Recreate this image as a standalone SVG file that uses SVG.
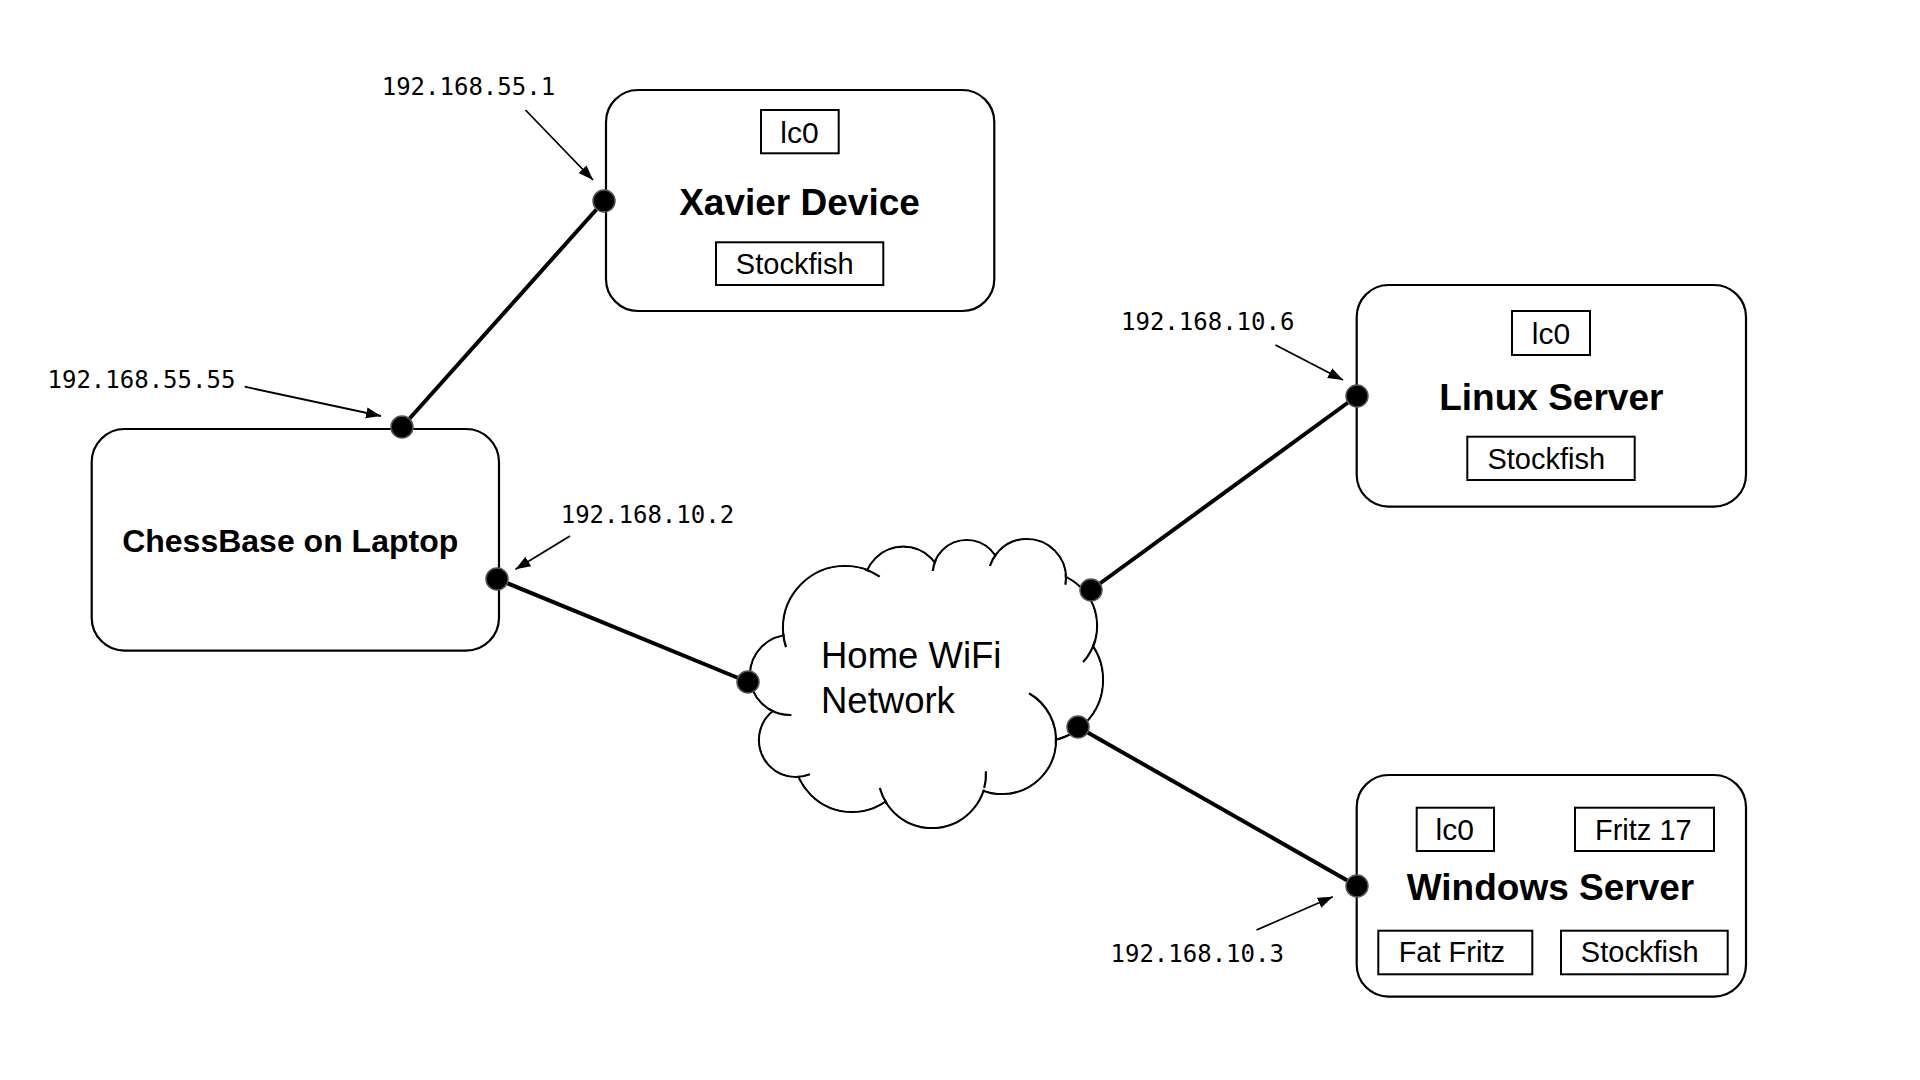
<svg xmlns="http://www.w3.org/2000/svg" width="1920" height="1080" viewBox="0 0 1920 1080">
<style>
.box{fill:#fff;stroke:#000;stroke-width:2.2}
.sub{fill:#fff;stroke:#000;stroke-width:2}
.title{font-family:"Liberation Sans",Arial,sans-serif;font-weight:bold;font-size:37px;text-anchor:middle;fill:#000}
.lbl{font-family:"Liberation Sans",Arial,sans-serif;font-size:29px;text-anchor:middle;fill:#000}
.ip{font-family:"DejaVu Sans Mono","Liberation Mono",monospace;font-size:24px;fill:#000}
.cs{fill:#fff;stroke:#000;stroke-width:2.2}
.cf{fill:#fff;stroke:none}
.tail{fill:none;stroke:#000;stroke-width:2.2}
.link{stroke:#000;stroke-width:4;fill:none}
.arr{stroke:#000;stroke-width:1.8;fill:none;marker-end:url(#ah)}
.port{fill:#000;stroke:#555;stroke-width:1.5}
</style>
<defs>
<marker id="ah" markerUnits="userSpaceOnUse" markerWidth="16" markerHeight="12" refX="15" refY="5.5" orient="auto">
<path d="M0,0 L15,5.5 L0,11 z" fill="#000"/>
</marker>
</defs>
<rect width="1920" height="1080" fill="#fff"/>

<g id="xavier">
<rect class="box" x="606" y="90" width="388.3" height="221" rx="32" ry="32"/>
<rect class="sub" x="761" y="110" width="77.7" height="43.3"/>
<text class="lbl" x="799.5" y="142.5" style="font-size:30px">lc0</text>
<text class="title" x="799.5" y="215">Xavier Device</text>
<rect class="sub" x="716" y="242.3" width="167.3" height="42.7"/>
<text class="lbl" x="794.7" y="274">Stockfish</text>
</g>

<g id="laptop">
<rect class="box" x="91.7" y="429" width="407.3" height="221.7" rx="33" ry="33"/>
<text class="title" x="290.2" y="551.7" style="font-size:32px">ChessBase on Laptop</text>
</g>

<g id="linux">
<rect class="box" x="1356.7" y="285" width="389.3" height="221.7" rx="32" ry="32"/>
<rect class="sub" x="1512" y="311" width="78" height="44"/>
<text class="lbl" x="1551" y="343.5" style="font-size:30px">lc0</text>
<text class="title" x="1551.3" y="410">Linux Server</text>
<rect class="sub" x="1467.3" y="436.7" width="167.4" height="43.3"/>
<text class="lbl" x="1546.3" y="469">Stockfish</text>
</g>

<g id="windows">
<rect class="box" x="1356.7" y="775" width="389.3" height="221.7" rx="32" ry="32"/>
<rect class="sub" x="1416.7" y="807.7" width="77.3" height="43.3"/>
<text class="lbl" x="1454.7" y="840" style="font-size:30px">lc0</text>
<rect class="sub" x="1575" y="807.7" width="139" height="43.3"/>
<text class="lbl" x="1643.3" y="840">Fritz 17</text>
<text class="title" x="1550.5" y="900">Windows Server</text>
<rect class="sub" x="1378.3" y="930.7" width="154" height="43.6"/>
<text class="lbl" x="1451.8" y="962.3">Fat Fritz</text>
<rect class="sub" x="1561" y="930.7" width="166.7" height="43.6"/>
<text class="lbl" x="1639.7" y="962.3">Stockfish</text>
</g>

<g id="wifi">
<circle class="cs" cx="845" cy="628" r="62"/>
<circle class="cs" cx="903.3" cy="586" r="39.3"/>
<circle class="cs" cx="966.7" cy="574" r="34"/>
<circle class="cs" cx="1027" cy="578" r="39"/>
<circle class="cs" cx="1043" cy="626" r="54"/>
<circle class="cs" cx="1042" cy="680" r="61"/>
<circle class="cs" cx="1002" cy="740" r="54"/>
<circle class="cs" cx="932" cy="774" r="54"/>
<circle class="cs" cx="852" cy="754" r="58"/>
<circle class="cs" cx="796" cy="740" r="37"/>
<circle class="cs" cx="790" cy="675" r="40"/>
<polygon class="cf" points="845,628 903.3,586 966.7,574 1027,578 1043,626 1042,680 1002,740 932,774 852,754 796,740 790,675"/>
<circle class="cf" cx="845" cy="628" r="60.9"/>
<circle class="cf" cx="903.3" cy="586" r="38.2"/>
<circle class="cf" cx="966.7" cy="574" r="32.9"/>
<circle class="cf" cx="1027" cy="578" r="37.9"/>
<circle class="cf" cx="1043" cy="626" r="52.9"/>
<circle class="cf" cx="1042" cy="680" r="59.9"/>
<circle class="cf" cx="1002" cy="740" r="52.9"/>
<circle class="cf" cx="932" cy="774" r="52.9"/>
<circle class="cf" cx="852" cy="754" r="56.9"/>
<circle class="cf" cx="796" cy="740" r="35.9"/>
<circle class="cf" cx="790" cy="675" r="38.9"/>
<path class="tail" d="M783.2,633.4 A62,62 0 0 0 786.0,647.2"/>
<path class="tail" d="M864.2,569.0 A62,62 0 0 1 879.7,576.6"/>
<path class="tail" d="M932.8,571.0 A34,34 0 0 1 935.9,559.6"/>
<path class="tail" d="M989.9,566.0 A39,39 0 0 1 996.3,554.0"/>
<path class="tail" d="M1065.8,573.9 A39,39 0 0 1 1065.4,584.8"/>
<path class="tail" d="M1095.2,640 A54,54 0 0 1 1083.1,662.1"/>
<path class="tail" d="M1029,693.2 A54,54 0 0 1 1055.8,744.7"/>
<path class="tail" d="M985.9,771.2 A54,54 0 0 1 984.2,788.0"/>
<path class="tail" d="M886.7,803.4 A54,54 0 0 1 879.8,788.0"/>
<path class="tail" d="M796,777 A37,37 0 0 0 809.9,774.3"/>
<path class="tail" d="M768.8,708.9 A40,40 0 0 0 791.4,715.0"/>
<text class="lbl" x="821" y="668.3" style="text-anchor:start;font-size:36.5px">Home WiFi</text>
<text class="lbl" x="821" y="712.7" style="text-anchor:start;font-size:36.5px">Network</text>
</g>

<g id="connectors">
<line class="link" x1="604" y1="201" x2="402" y2="427"/>
<line class="link" x1="497" y1="579" x2="748" y2="682"/>
<line class="link" x1="1091" y1="590" x2="1357" y2="396"/>
<line class="link" x1="1078" y1="727" x2="1357" y2="886"/>
<line class="arr" x1="525.5" y1="110" x2="593" y2="180"/>
<line class="arr" x1="244.6" y1="386.7" x2="381" y2="416"/>
<line class="arr" x1="570" y1="536" x2="515.5" y2="569.3"/>
<line class="arr" x1="1275.5" y1="345" x2="1343" y2="380"/>
<line class="arr" x1="1256.5" y1="930" x2="1332.8" y2="896.7"/>
<circle class="port" cx="604" cy="201" r="11"/>
<circle class="port" cx="402" cy="427" r="11"/>
<circle class="port" cx="497" cy="579" r="11"/>
<circle class="port" cx="748" cy="682" r="11"/>
<circle class="port" cx="1091" cy="590" r="11"/>
<circle class="port" cx="1078" cy="727" r="11"/>
<circle class="port" cx="1357" cy="396" r="11"/>
<circle class="port" cx="1357" cy="886" r="11"/>
<text class="ip" x="381.7" y="95">192.168.55.1</text>
<text class="ip" x="47.5" y="388">192.168.55.55</text>
<text class="ip" x="560.7" y="522.7">192.168.10.2</text>
<text class="ip" x="1121" y="330">192.168.10.6</text>
<text class="ip" x="1110.5" y="961.7">192.168.10.3</text>
</g>
</svg>
